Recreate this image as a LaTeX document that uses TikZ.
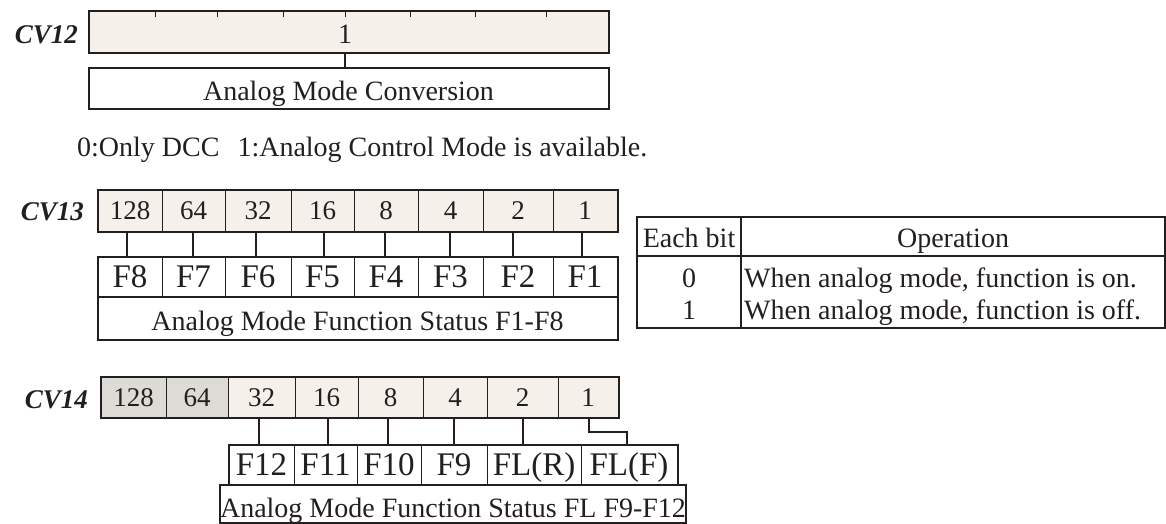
\documentclass[tikz,border=0pt]{standalone}
\usepackage{fontspec}
\setmainfont{Liberation Serif}
\usepackage{tikz}

\definecolor{bitbg}{HTML}{F5F1EA}
\definecolor{unusedbg}{HTML}{DCDBD6}
\definecolor{ink}{HTML}{231F20}

\tikzset{
  cell/.style={draw=ink, line width=1pt, inner sep=0pt, text=ink},
  bit/.style={cell, fill=bitbg, minimum height=41pt,
    font=\fontsize{27}{32}\selectfont, text height=18.3pt, text depth=0pt},
  fn/.style={cell, fill=white, minimum height=40pt,
    font=\fontsize{33}{38}\selectfont, text height=21.8pt, text depth=0pt},
  namebox/.style={cell, fill=white, font=\fontsize{28}{32}\selectfont,
    text height=25.5pt, text depth=0pt},
  frame/.style={draw=ink, line width=2pt},
  wire/.style={draw=ink, line width=2pt},
  cvname/.style={anchor=base east, inner sep=0pt, text=ink,
    font=\fontsize{27}{32}\selectfont\bfseries\itshape},
  plain/.style={anchor=base, inner sep=0pt, text=ink,
    font=\fontsize{28}{32}\selectfont}
}

\begin{document}
\begin{tikzpicture}[x=1pt,y=-1pt]
    \useasboundingbox (0,0) rectangle (1166,523);

    % CV12
    \node[cvname] (n12) at (78,43) {CV12};
    \node[bit, minimum width=519pt] (cv12) at (348.5,31.5) {};
    \draw[frame] (cv12.north west) rectangle (cv12.south east);
    \foreach \x in {155,217,283,345,410,475,546}{
        \draw[ink, line width=1pt] (\x,0 |- cv12.north) -- ++(0,6);
    }
    \node[plain] (v12) at (345,43) {1};
    \node[namebox, minimum width=519pt, minimum height=40pt] (conv) at (348.5,88)
        {Analog Mode Conversion};
    \draw[frame] (conv.north west) rectangle (conv.south east);
    \draw[wire] (v12 |- cv12.south) -- (v12 |- conv.north);

    \node[plain, anchor=base west] (note) at (77,156)
        {0:Only DCC\hspace{18pt}1:Analog Control Mode is available.};

    % CV13
    \node[cvname] (n13) at (84,220) {CV13};
    \foreach \a/\b/\v [count=\i] in {98/162/128,162/225/64,225/291/32,291/354/16,
                                     354/418/8,418/483/4,483/553/2,553/617/1}{
        \node[bit, minimum width={(\b-\a)*1pt}] (b13-\i) at ({(\a+\b)/2},210.5) {\v};
    }
    \draw[frame] (b13-1.north west) rectangle (b13-8.south east);
    \foreach \a/\b/\v [count=\i] in {98/162/F8,162/225/F7,225/291/F6,291/354/F5,
                                     354/418/F4,418/483/F3,483/553/F2,553/617/F1}{
        \node[fn, minimum width={(\b-\a)*1pt}] (f13-\i) at ({(\a+\b)/2},277) {\v};
    }
    \draw[frame] (f13-1.north west) rectangle (f13-8.south east);
    \node[namebox, minimum width=519pt, minimum height=42pt] (s13) at (357.5,318)
        {Analog Mode Function Status F1-F8};
    \draw[frame] (s13.north west) rectangle (s13.south east);
    % bit -> function
    \foreach \x [count=\i] in {127,193,256,324,385,450,513,582}{
        \draw[wire] (\x,0 |- b13-\i.south) -- (\x,0 |- f13-\i.north);
    }

    % Each bit / Operation
    \draw[frame] (637,217) rectangle (1165,328);
    \draw[frame] (637,256) -- (1165,256);
    \draw[frame] (741,217) -- (741,328);
    \node[plain] (th1) at (689,247) {Each bit};
    \node[plain] (th2) at (953,247) {Operation};
    \node[plain] (r0) at (689,287) {0};
    \node[plain, anchor=base west] (r0t) at (744,287) {When analog mode, function is on.};
    \node[plain] (r1) at (689,319) {1};
    \node[plain, anchor=base west] (r1t) at (744,319) {When analog mode, function is off.};

    % CV14
    \node[cvname] (n14) at (88,408) {CV14};
    \foreach \a/\b/\v/\c [count=\i] in {101/166/128/unusedbg,166/228/64/unusedbg,
                                        228/295/32/bitbg,295/358/16/bitbg,358/423/8/bitbg,
                                        423/487/4/bitbg,487/558/2/bitbg,558/618/1/bitbg}{
        \node[bit, fill=\c, minimum height=40pt, minimum width={(\b-\a)*1pt}]
            (b14-\i) at ({(\a+\b)/2},397) {\v};
    }
    \draw[frame] (b14-1.north west) rectangle (b14-8.south east);
    \foreach \a/\b/\v [count=\i] in {229/294/F12,294/357/F11,357/421/F10,421/487/F9,
                                     487/581/FL(R),581/677/FL(F)}{
        \node[fn, minimum width={(\b-\a)*1pt}] (f14-\i) at ({(\a+\b)/2},465) {\v};
    }
    \draw[frame] (f14-1.north west) rectangle (f14-6.south east);
    \node[namebox, minimum width=448pt, minimum height=37pt, text height=28pt]
        (s14) at (453,503.5) {Analog Mode Function Status FL F9-F12};
    \draw[frame] (s14.north west) rectangle (s14.south east);
    % bit -> function
    \foreach \x/\i/\j in {259/3/1,328/4/2,388/5/3,454/6/4,523/7/5}{
        \draw[wire] (\x,0 |- b14-\i.south) -- (\x,0 |- f14-\j.north);
    }
    \draw[wire] (589,0 |- b14-8.south) -- (589,432) -| (627,0 |- f14-6.north);
\end{tikzpicture}
\end{document}
